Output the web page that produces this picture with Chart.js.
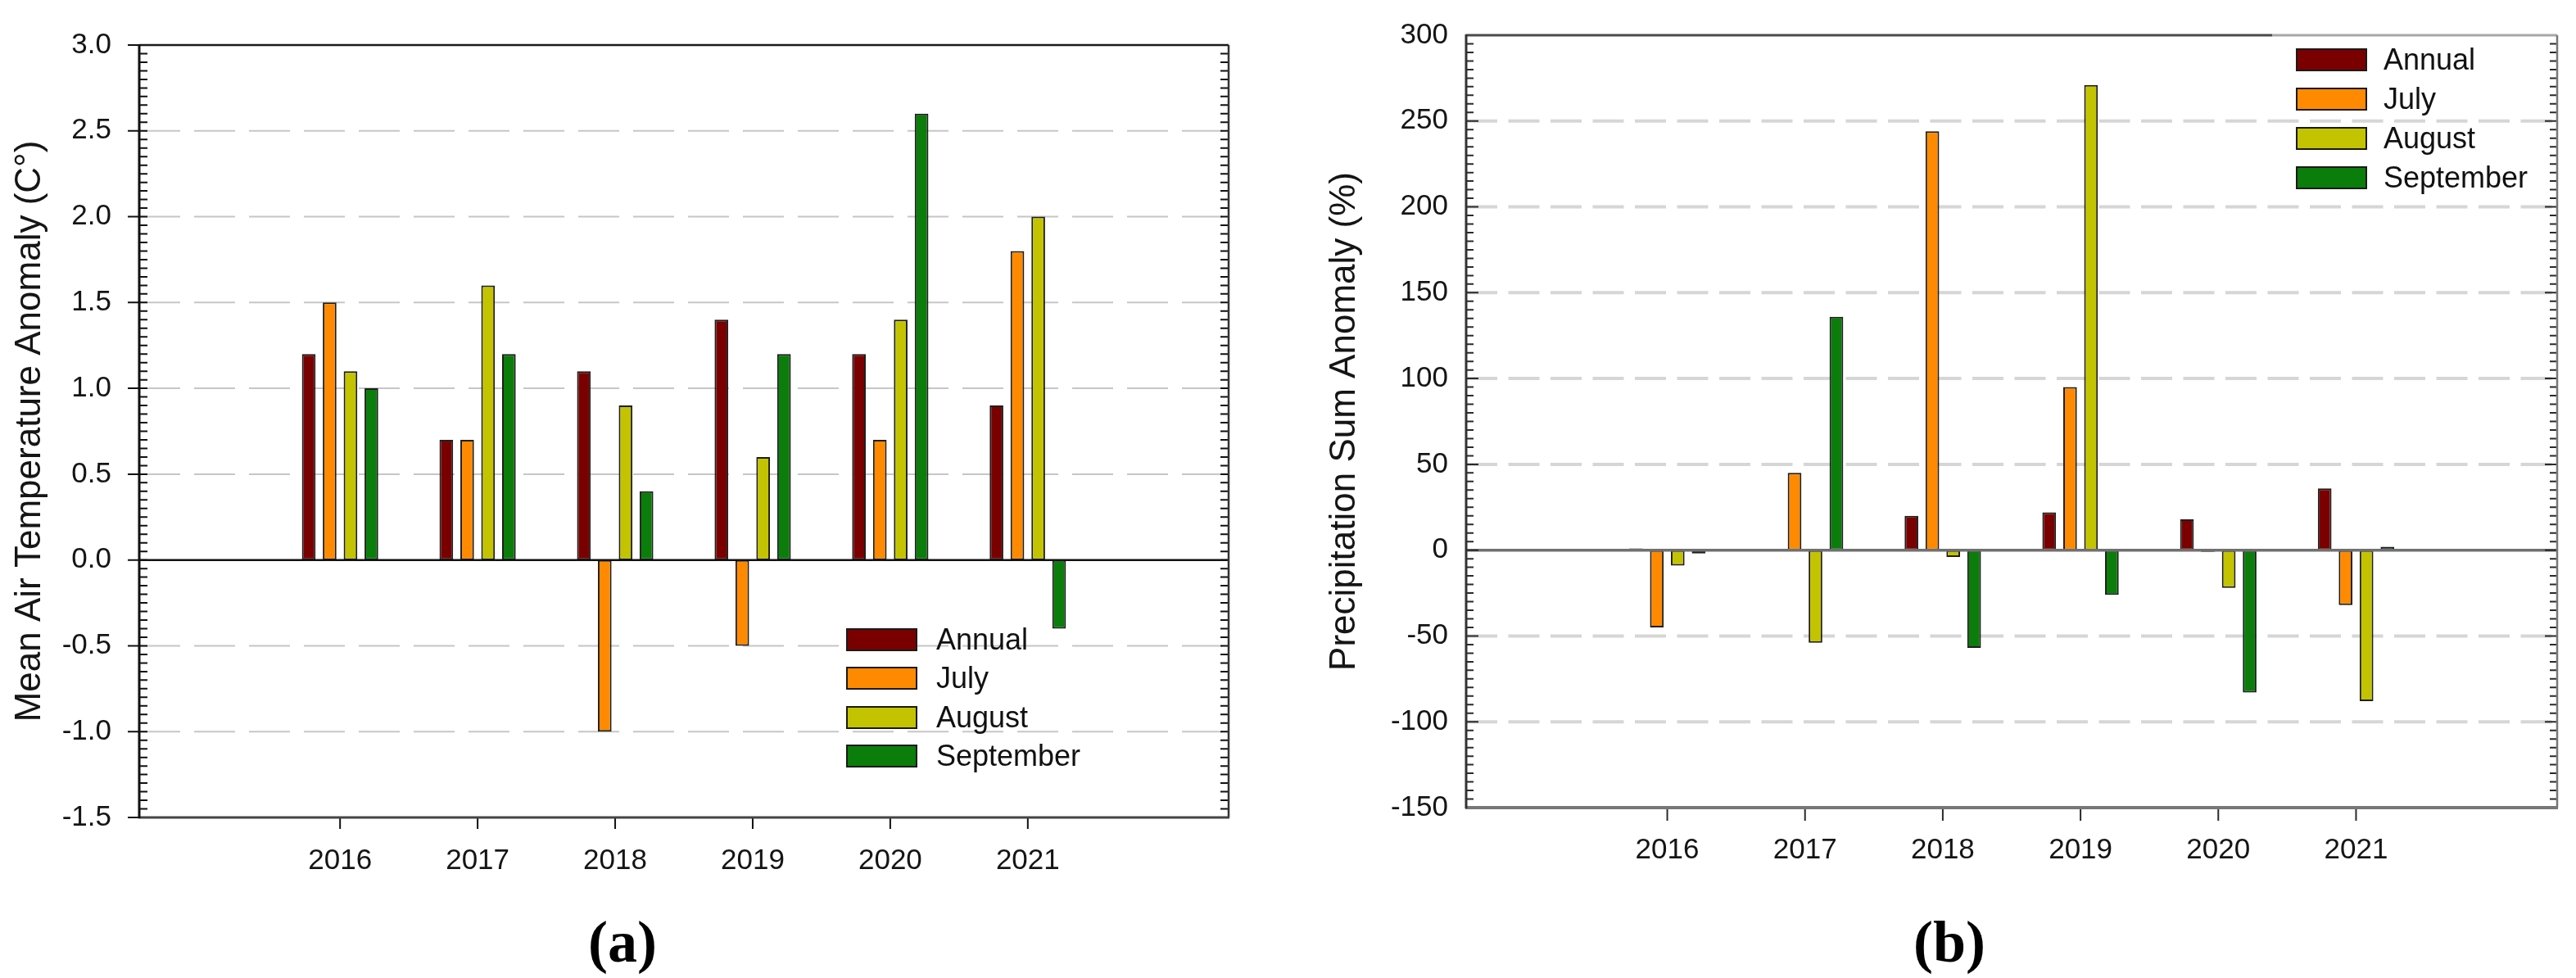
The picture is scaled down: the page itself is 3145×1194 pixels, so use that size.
<!DOCTYPE html>
<html>
<head>
<meta charset="utf-8">
<script src="https://cdn.jsdelivr.net/npm/chart.js@4.4.1/dist/chart.umd.min.js"></script>
<style>
  html, body { margin: 0; padding: 0; background: #fff; }
  #page { position: relative; width: 3145px; height: 1194px; overflow: hidden; font-family: "Liberation Sans", Arial, sans-serif; }
  .box { position: absolute; top: 0; height: 1194px; }
  .legend { position: absolute; }
  .legend .row { position: absolute; left: 0; height: 28px; display: flex; align-items: center; white-space: nowrap; }
  .legend .sw { width: 87px; height: 28px; box-sizing: border-box; border: 2.5px solid #1a1a1a; flex: none; }
  .legend .tx { font-size: 36px; color: #111; line-height: 1; }
  .panel { position: absolute; font-family: "Liberation Serif", serif; font-weight: bold; font-size: 72px; color: #000; transform: translate(-50%, -50%); }
</style>
</head>
<body>
<div id="page">
  <div class="box" style="left:0;width:1545px"><canvas id="tempChart"></canvas></div>
  <div class="box" style="left:1545px;width:1600px"><canvas id="precChart"></canvas></div>
  <div class="legend" id="legendA" style="left:1033px;top:767px"></div>
  <div class="legend" id="legendB" style="left:2803px;top:59px"></div>
  <div class="panel" style="left:760px;top:1150px">(a)</div>
  <div class="panel" style="left:2380px;top:1150px">(b)</div>
</div>
<script>
// categories and series
const years = [2016, 2017, 2018, 2019, 2020, 2021];
const seriesNames = ["Annual", "July", "August", "September"];
const seriesColors = ["#7a0000", "#ff8a00", "#c3c300", "#0a7d0a"];

// (a) mean air temperature anomaly, C
const tempAnnual = [1.2, 0.7, 1.1, 1.4, 1.2, 0.9];
const tempJuly = [1.5, 0.7, -1.0, -0.5, 0.7, 1.8];
const tempAugust = [1.1, 1.6, 0.9, 0.6, 1.4, 2.0];
const tempSeptember = [1.0, 1.2, 0.4, 1.2, 2.6, -0.4];
const tempTicks = [-1.5, -1.0, -0.5, 0.0, 0.5, 1.0, 1.5, 2.0, 2.5, 3.0];

// (b) precipitation sum anomaly, %
const precAnnual = [1, 0, 20, 22, 18, 36];
const precJuly = [-45, 45, 244, 95, -1, -32];
const precAugust = [-9, -54, -4, 271, -22, -88];
const precSeptember = [-2, 136, -57, -26, -83, 2];
const precTicks = [-150, -100, -50, 0, 50, 100, 150, 200, 250, 300];

const FONT = '"Liberation Sans", Arial, sans-serif';

// gridlines, zero line, frame and the dense SigmaPlot-style ticks
const framePlugin = {
    id: 'frame',
    beforeDatasetsDraw(chart, args, o) {
        const { ctx, chartArea: a, scales: { y } } = chart;
        ctx.save();
        ctx.strokeStyle = o.gridColor;
        ctx.lineWidth = o.gridWidth;
        ctx.setLineDash(o.gridDash);
        y.ticks.forEach(t => {
            if (t.value === 0 || t.value === y.min || t.value === y.max) return;
            const py = y.getPixelForValue(t.value);
            ctx.beginPath();
            ctx.moveTo(a.left, py);
            ctx.lineTo(a.right, py);
            ctx.stroke();
        });
        ctx.restore();
    },
    afterDatasetsDraw(chart, args, o) {
        const { ctx, chartArea: a, scales: { x, y } } = chart;
        ctx.save();
        ctx.setLineDash([]);

        // zero line
        const z = y.getPixelForValue(0);
        ctx.strokeStyle = o.zeroColor;
        ctx.lineWidth = o.zeroWidth;
        ctx.beginPath(); ctx.moveTo(a.left, z); ctx.lineTo(a.right, z); ctx.stroke();

        // ticks
        ctx.strokeStyle = o.tickColor;
        ctx.lineWidth = o.tickWidth;
        const n = Math.round((y.max - y.min) / o.minorStep);
        for (let i = 0; i <= n; i++) {
            const py = y.getPixelForValue(y.min + i * o.minorStep);
            const major = i % o.minorPerMajor === 0;
            ctx.beginPath();
            ctx.moveTo(a.left - (major ? o.majorOut : 0), py);
            ctx.lineTo(a.left + (major ? o.majorIn : o.minorIn), py);
            ctx.moveTo(a.right - (major ? o.majorIn : o.minorIn), py);
            ctx.lineTo(a.right, py);
            ctx.stroke();
        }
        years.forEach(yr => {
            const px = x.getPixelForValue(yr);
            ctx.beginPath(); ctx.moveTo(px, a.bottom); ctx.lineTo(px, a.bottom + o.xTickLen); ctx.stroke();
        });

        // frame
        const side = (c, w, x1, y1, x2, y2) => {
            ctx.strokeStyle = c; ctx.lineWidth = w;
            ctx.beginPath(); ctx.moveTo(x1, y1); ctx.lineTo(x2, y2); ctx.stroke();
        };
        const split = o.topSplit ? a.left + o.topSplit : a.right;
        side(o.topColor, o.topWidth, a.left, a.top, split, a.top);
        if (o.topSplit) side(o.topColor2, o.topWidth, split, a.top, a.right, a.top);
        side(o.rightColor, o.rightWidth, a.right, a.top, a.right, a.bottom);
        side(o.bottomColor, o.bottomWidth, a.left - 1, a.bottom, a.right + 1, a.bottom);
        side(o.leftColor, o.leftWidth, a.left, a.top - 1, a.left, a.bottom + 1);
        ctx.restore();
    }
};

function barSets(series) {
    return series.map((vals, i) => ({
        label: seriesNames[i],
        data: years.map((yr, j) => ({ x: yr, y: vals[j] })),
        backgroundColor: seriesColors[i],
        borderColor: "#1e1e1e",
        borderWidth: 2,
        borderSkipped: false,
        categoryPercentage: 0.607,
        barPercentage: 0.654
    }));
}

function makeChart(id, cfg) {
    return new Chart(document.getElementById(id), {
        type: 'bar',
        data: { datasets: barSets(cfg.series) },
        plugins: [framePlugin],
        options: {
            responsive: true,
            maintainAspectRatio: false,
            devicePixelRatio: 1,
            animation: false,
            layout: { padding: cfg.padding },
            plugins: {
                legend: { display: false },
                tooltip: { enabled: false },
                frame: cfg.frame
            },
            scales: {
                x: {
                    type: 'linear',
                    min: 2015.2,
                    max: 2021.8,
                    afterBuildTicks: s => { s.ticks = years.map(v => ({ value: v })); },
                    afterFit: s => { s.height = cfg.xHeight; },
                    ticks: {
                        callback: v => String(v),
                        font: { family: FONT, size: 35 },
                        color: '#151515',
                        padding: cfg.xPad,
                        maxRotation: 0,
                        autoSkip: false
                    },
                    grid: { display: false, drawTicks: false, tickLength: 0 },
                    border: { display: false }
                },
                y: {
                    min: cfg.ticks[0],
                    max: cfg.ticks[cfg.ticks.length - 1],
                    afterBuildTicks: s => { s.ticks = cfg.ticks.map(v => ({ value: v })); },
                    afterFit: s => { s.width = cfg.yWidth; },
                    ticks: {
                        callback: cfg.fmt,
                        font: { family: FONT, size: 35 },
                        color: '#151515',
                        padding: cfg.yPad
                    },
                    title: {
                        display: true,
                        text: cfg.title,
                        font: { family: FONT, size: 44 },
                        color: '#151515',
                        padding: { top: cfg.titlePad, bottom: 0 }
                    },
                    grid: { display: false, drawTicks: false, tickLength: 0 },
                    border: { display: false }
                }
            }
        }
    });
}

makeChart('tempChart', {
    series: [tempAnnual, tempJuly, tempAugust, tempSeptember],
    ticks: tempTicks,
    fmt: v => v.toFixed(1),
    title: 'Mean Air Temperature Anomaly (C°)',
    padding: { left: 0, top: 40, right: 45, bottom: 0 },
    yWidth: 170, xHeight: 196, yPad: 34, xPad: 32, titlePad: 10,
    frame: {
        gridColor: '#c6c6c6', gridWidth: 2, gridDash: [50, 17],
        zeroColor: '#111', zeroWidth: 2.5,
        tickColor: '#111', tickWidth: 2, minorStep: 0.05, minorPerMajor: 10,
        majorOut: 14, majorIn: 10, minorIn: 10, xTickLen: 14,
        topColor: '#1a1a1a', topWidth: 2.5, rightColor: '#333', rightWidth: 2.5,
        bottomColor: '#444', bottomWidth: 3, leftColor: '#111', leftWidth: 3
    }
});

makeChart('precChart', {
    series: [precAnnual, precJuly, precAugust, precSeptember],
    ticks: precTicks,
    fmt: v => String(v),
    title: 'Precipitation Sum Anomaly (%)',
    padding: { left: 0, top: 24, right: 23, bottom: 0 },
    yWidth: 245, xHeight: 208, yPad: 22, xPad: 31, titlePad: 70,
    frame: {
        gridColor: '#d6d6d6', gridWidth: 4, gridDash: [38, 13.5],
        zeroColor: '#707070', zeroWidth: 3.5,
        tickColor: '#2a2a2a', tickWidth: 2, minorStep: 5, minorPerMajor: 10,
        majorOut: 0, majorIn: 15, minorIn: 9, xTickLen: 16,
        topColor: '#4a4a4a', topColor2: '#a8a8a8', topSplit: 984, topWidth: 3,
        rightColor: '#777', rightWidth: 2.5,
        bottomColor: '#777', bottomWidth: 4, leftColor: '#333', leftWidth: 3
    }
});

// legends built from the series names and colours
function buildLegend(id, pitch, gap) {
    const box = document.getElementById(id);
    seriesNames.forEach((name, i) => {
        const row = document.createElement('div');
        row.className = 'row';
        row.style.top = (i * pitch) + 'px';
        const sw = document.createElement('div');
        sw.className = 'sw';
        sw.style.background = seriesColors[i];
        const tx = document.createElement('span');
        tx.className = 'tx';
        tx.style.marginLeft = gap + 'px';
        tx.textContent = name;
        row.appendChild(sw);
        row.appendChild(tx);
        box.appendChild(row);
    });
}
buildLegend('legendA', 47.3, 23);
buildLegend('legendB', 48, 20);
</script>
</body>
</html>
